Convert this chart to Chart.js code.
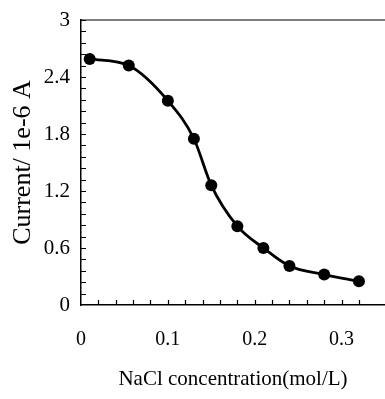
<!DOCTYPE html>
<html>
<head>
<meta charset="utf-8">
<script src="https://cdn.jsdelivr.net/npm/chart.js@4/dist/chart.umd.min.js"></script>
<style>
  html, body { margin: 0; padding: 0; background: #fff; overflow: hidden; }
  #wrap { width: 385px; height: 399px; }
</style>
</head>
<body>
<div id="wrap"><canvas id="chart" width="385" height="399"></canvas></div>
<script>
// NaCl concentration (mol/L) vs current (1e-6 A)
const concentration = [0.01, 0.055, 0.1, 0.13, 0.15, 0.18, 0.21, 0.24, 0.28, 0.32];
const current = [2.59, 2.52, 2.15, 1.75, 1.26, 0.83, 0.60, 0.41, 0.32, 0.25];

const xMajor = 0.1, xMinor = 0.02;
const yMajor = 0.6, yMinor = 0.12;

const SERIF = '"Liberation Serif", "DejaVu Serif", serif';

function isMultiple(v, step) {
    const r = v / step;
    return Math.abs(r - Math.round(r)) < 1e-6;
}

// inward tick marks and the top frame line
const frame = {
    id: 'frame',
    afterDraw(chart) {
        const { ctx, chartArea: a, scales: { x, y } } = chart;
        ctx.save();
        ctx.strokeStyle = '#000';
        ctx.lineWidth = 1.2;
        ctx.beginPath();
        ctx.moveTo(a.left, a.top);
        ctx.lineTo(a.right, a.top);
        x.ticks.forEach(t => {
            const px = Math.round(x.getPixelForValue(t.value)) + 0.5;
            if (px <= a.left + 1 || px >= a.right - 1) return;
            ctx.moveTo(px, a.bottom);
            ctx.lineTo(px, a.bottom - 5);
        });
        y.ticks.forEach(t => {
            const py = Math.round(y.getPixelForValue(t.value)) + 0.5;
            if (py >= a.bottom - 1) return;
            ctx.moveTo(a.left, py);
            ctx.lineTo(a.left + 5, py);
        });
        ctx.stroke();
        ctx.restore();
    }
};

const ctx = document.getElementById('chart').getContext('2d');
new Chart(ctx, {
    type: 'line',
    data: {
        datasets: [{
            data: concentration.map((c, i) => ({ x: c, y: current[i] })),
            borderColor: '#000',
            borderWidth: 2.8,
            backgroundColor: '#000',
            pointRadius: 6,
            pointBackgroundColor: '#000',
            pointBorderWidth: 0,
            cubicInterpolationMode: 'monotone',
            tension: 0.4,
            clip: false
        }]
    },
    options: {
        responsive: false,
        animation: false,
        layout: { padding: { top: 20, right: 0, left: 0, bottom: 0 }, autoPadding: false },
        plugins: { legend: { display: false }, tooltip: { enabled: false } },
        scales: {
            x: {
                type: 'linear',
                min: 0,
                max: 0.35,
                afterFit: s => { s.height = 94; s.paddingLeft = 0; s.paddingRight = 0; },
                grid: { drawOnChartArea: false, drawTicks: false },
                border: { display: true, color: '#000', width: 1.5 },
                ticks: {
                    stepSize: xMinor,
                    autoSkip: false,
                    maxRotation: 0,
                    padding: 23,
                    color: '#000',
                    font: { family: SERIF, size: 20 },
                    callback: v => isMultiple(v, xMajor) ? String(Number(v.toFixed(1))) : ''
                },
                title: {
                    display: true,
                    text: 'NaCl concentration(mol/L)',
                    color: '#000',
                    font: { family: SERIF, size: 21, lineHeight: 1 },
                    padding: { top: 0, bottom: 9 }
                }
            },
            y: {
                min: 0,
                max: 3,
                afterFit: s => { s.width = 81; s.paddingTop = 0; s.paddingBottom = 0; },
                grid: { drawOnChartArea: false, drawTicks: false },
                border: { display: true, color: '#000', width: 1.5 },
                ticks: {
                    stepSize: yMinor,
                    autoSkip: false,
                    padding: 11,
                    color: '#000',
                    font: { family: SERIF, size: 21 },
                    callback: v => isMultiple(v, yMajor) ? String(Number(v.toFixed(1))) : ''
                },
                title: {
                    display: true,
                    text: 'Current/ 1e-6 A',
                    color: '#000',
                    font: { family: SERIF, size: 26, lineHeight: 1 },
                    padding: { top: 10, bottom: 0 }
                }
            }
        }
    },
    plugins: [frame]
});
</script>
</body>
</html>
